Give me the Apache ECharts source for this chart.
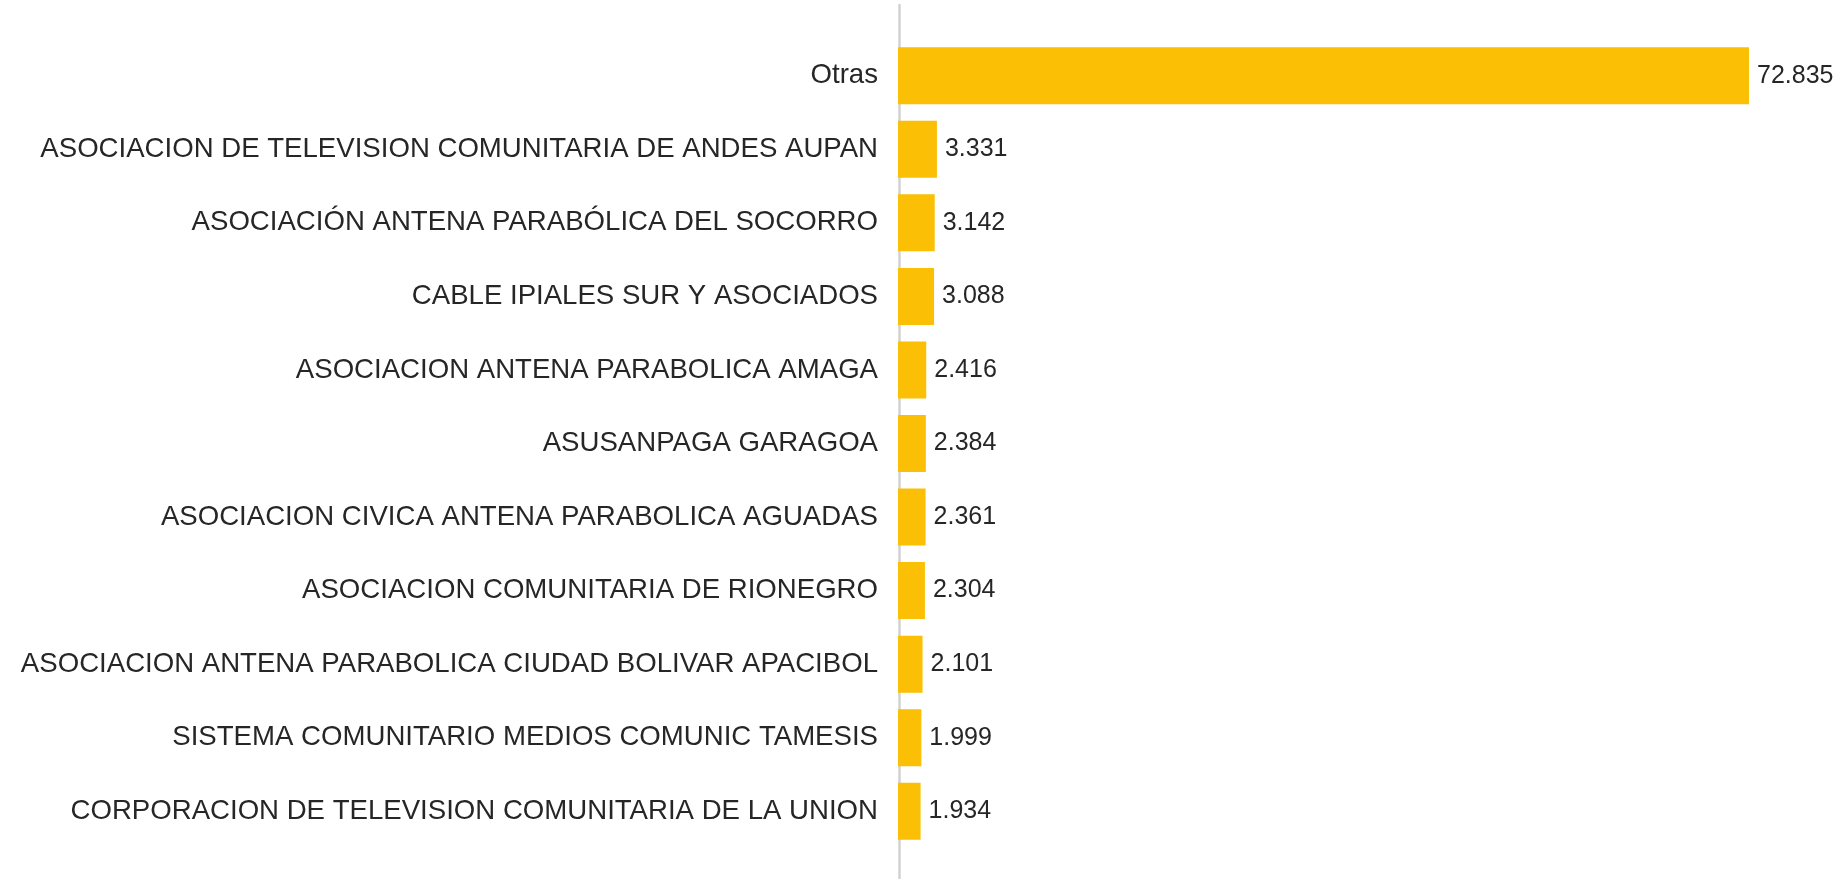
<!DOCTYPE html>
<html>
<head>
<meta charset="utf-8">
<script src="https://cdn.jsdelivr.net/npm/echarts@6/dist/echarts.min.js"></script>
<style>
  html, body { margin: 0; padding: 0; background: #ffffff; }
  #chart { width: 1847px; height: 879px; }
</style>
</head>
<body>
<div id="chart"></div>
<script>
// Operators, top to bottom as in the picture
const operators = [
    'Otras',
    'ASOCIACION DE TELEVISION COMUNITARIA DE ANDES AUPAN',
    'ASOCIACIÓN ANTENA PARABÓLICA DEL SOCORRO',
    'CABLE IPIALES SUR Y ASOCIADOS',
    'ASOCIACION ANTENA PARABOLICA AMAGA',
    'ASUSANPAGA GARAGOA',
    'ASOCIACION CIVICA ANTENA PARABOLICA AGUADAS',
    'ASOCIACION COMUNITARIA DE RIONEGRO',
    'ASOCIACION ANTENA PARABOLICA CIUDAD BOLIVAR APACIBOL',
    'SISTEMA COMUNITARIO MEDIOS COMUNIC TAMESIS',
    'CORPORACION DE TELEVISION COMUNITARIA DE LA UNION'
];

// Subscribers per operator
const subscribers = [72835, 3331, 3142, 3088, 2416, 2384, 2361, 2304, 2101, 1999, 1934];

// Thousands separated with a dot
function formatNumber(v) {
    return String(v).replace(/\B(?=(\d{3})+(?!\d))/g, '.');
}

const chartDom = document.getElementById('chart');
const myChart = echarts.init(chartDom);

const option = {
    animation: false,
    textStyle: { fontFamily: '"Liberation Sans", Arial, sans-serif' },
    grid: [
        // bars
        { left: 898, right: 98, top: 39, bottom: 31, containLabel: false },
        // only used for the long vertical axis line
        { left: 899, width: 2, top: 5, bottom: 0 }
    ],
    xAxis: [
        { type: 'value', gridIndex: 0, min: 0, max: 'dataMax', show: false },
        { type: 'value', gridIndex: 1, show: false }
    ],
    yAxis: [
        {
            type: 'category',
            gridIndex: 0,
            data: operators,
            inverse: true,
            axisLine: { show: false },
            axisTick: { show: false },
            splitLine: { show: false },
            axisLabel: {
                margin: 20,
                fontSize: 27.6,
                color: '#262626',
                padding: [6, 0, 0, 0],
                fontFamily: '"Liberation Sans", Arial, sans-serif'
            }
        },
        {
            type: 'value',
            gridIndex: 1,
            axisLine: { show: true, lineStyle: { color: '#d2d2d2', width: 2.5 } },
            axisTick: { show: false },
            axisLabel: { show: false },
            splitLine: { show: false }
        }
    ],
    series: [{
        name: 'Suscriptores',
        type: 'bar',
        xAxisIndex: 0,
        yAxisIndex: 0,
        data: subscribers,
        barCategoryGap: '22.5%',
        itemStyle: { color: '#FBBF05' },
        label: {
            show: true,
            position: 'right',
            distance: 8,
            fontSize: 25,
            color: '#262626',
            fontFamily: '"Liberation Sans", Arial, sans-serif',
            formatter: p => formatNumber(p.value)
        }
    }]
};

myChart.setOption(option);
</script>
</body>
</html>
